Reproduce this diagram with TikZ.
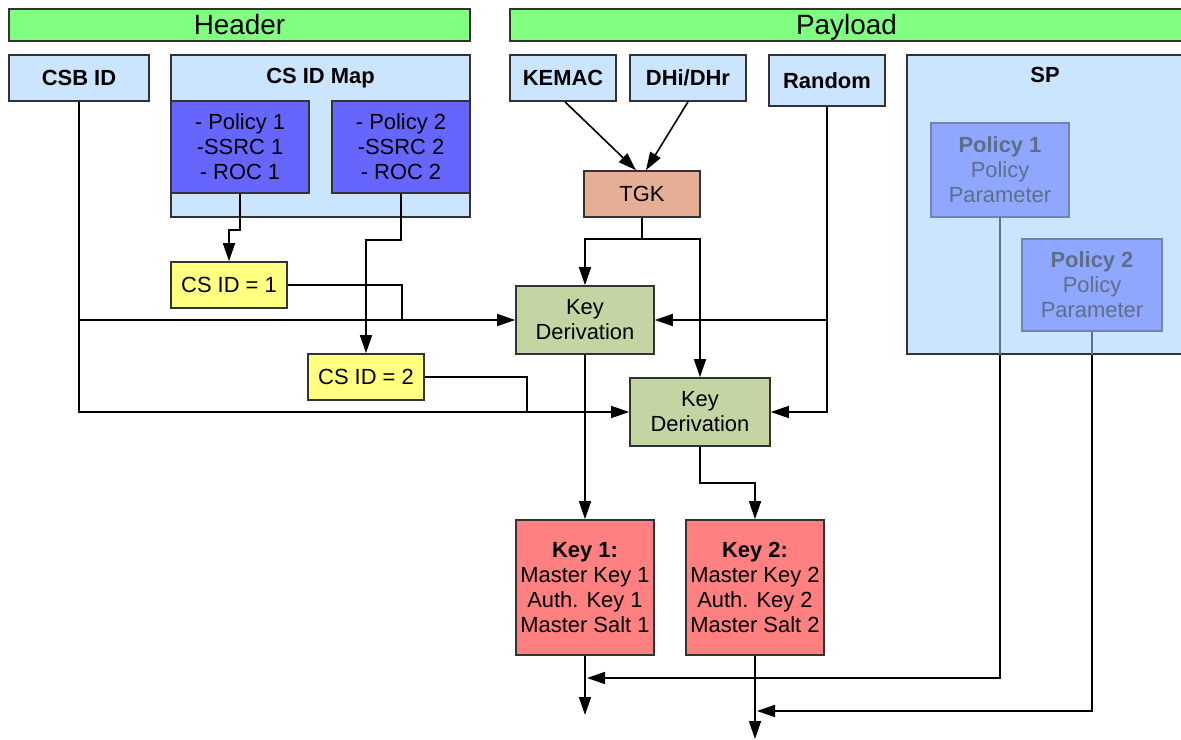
\documentclass[tikz,border=0pt]{standalone}
\usepackage{fontspec}
\setmainfont{Liberation Sans}
\usetikzlibrary{arrows.meta,calc}

\definecolor{barGreen}{HTML}{80FF80}
\definecolor{paleBlue}{HTML}{CCE5FF}
\definecolor{deepBlue}{HTML}{6666FF}
\definecolor{tgkFill}{HTML}{E5AF96}
\definecolor{csYellow}{HTML}{FFFF80}
\definecolor{kdGreen}{HTML}{C2D5A3}
\definecolor{keyRed}{HTML}{FF8080}
\definecolor{spFill}{HTML}{8FA7FF}
\definecolor{spEdge}{HTML}{6F84B5}
\definecolor{spText}{HTML}{5E6E88}
\definecolor{spWireCol}{HTML}{5B7090}
\definecolor{edge}{HTML}{333333}

\tikzset{
  sz/.style 2 args={minimum width=#1, minimum height=#2},
  box/.style={draw=edge, line width=1.7bp, inner sep=0pt, align=center,
              font=\fontsize{22}{25}\selectfont},
  single/.style={text height=15.8bp, text depth=0pt},
  boldbox/.style={box, single, font=\fontsize{22}{25}\selectfont\bfseries},
  bar/.style={box, fill=barGreen, font=\fontsize{28}{30}\selectfont,
              text height=20bp, text depth=0pt},
  title/.style={inner sep=0pt, single, font=\fontsize{22}{25}\selectfont\bfseries},
  policybox/.style={box, fill=spFill, draw=spEdge, text=spText},
  wire/.style={draw=black, line width=1.6bp},
  spwire/.style={draw=spWireCol, line width=1.6bp},
  arr/.style={wire, -{Triangle[length=18bp,width=12bp]}},
}

\begin{document}
\begin{tikzpicture}[x=1bp,y=-1bp]
\useasboundingbox (0,0) rectangle (1181,740);
\fill[white] (0,0) rectangle (1181,740);

% section bars
\node[bar, sz={461bp}{32bp}] (header) at (239.5,25) {Header};
\node[bar, sz={673bp}{32bp}] (payload) at (846.5,25) {Payload};

% header fields
\node[boldbox, fill=paleBlue, sz={140bp}{46bp}] (csb) at (79,78) {CSB ID};
\node[box, fill=paleBlue, sz={299bp}{162bp}] (csmap) at (320.5,136) {};
\node[title] (csmaptitle) at (320.5,76) {CS ID Map};
\node[box, fill=deepBlue, sz={138bp}{92bp}] (pol1) at (240,147) {- Policy 1\\-SSRC 1\\- ROC 1};
\node[box, fill=deepBlue, sz={138bp}{92bp}] (pol2) at (401,147) {- Policy 2\\-SSRC 2\\- ROC 2};

% payload fields
\node[boldbox, fill=paleBlue, sz={106bp}{46bp}] (kemac) at (563,78) {KEMAC};
\node[boldbox, fill=paleBlue, sz={116bp}{46bp}] (dh) at (688,78) {DHi/DHr};
\node[boldbox, fill=paleBlue, sz={116bp}{51bp}] (random) at (827,80.5) {Random};
\node[box, fill=paleBlue, sz={276bp}{299bp}] (sp) at (1045,204.5) {};
\node[title] (sptitle) at (1045,75) {SP};
\node[policybox, sz={138bp}{94bp}] (sppol1) at (1000,170) {\textbf{Policy 1}\\Policy\\Parameter};
\node[policybox, sz={140bp}{92bp}] (sppol2) at (1092,285) {\textbf{Policy 2}\\Policy\\Parameter};

% derived items
\node[box, single, fill=tgkFill, sz={116bp}{46bp}] (tgk) at (642,194) {TGK};
\node[box, single, fill=csYellow, sz={116bp}{46bp}] (cs1) at (229,285) {CS ID = 1};
\node[box, single, fill=csYellow, sz={116bp}{46bp}] (cs2) at (366,377) {CS ID = 2};
\node[box, fill=kdGreen, sz={138bp}{68bp}] (kd1) at (585,320) {Key\\Derivation};
\node[box, fill=kdGreen, sz={140bp}{68bp}] (kd2) at (700,412) {Key\\Derivation};
\node[box, fill=keyRed, sz={138bp}{135bp}] (key1) at (585,587.5)
  {\textbf{Key 1:}\\Master Key 1\\Auth. Key 1\\Master Salt 1};
\node[box, fill=keyRed, sz={138bp}{135bp}] (key2) at (755,587.5)
  {\textbf{Key 2:}\\Master Key 2\\Auth. Key 2\\Master Salt 2};

% junction and free-end points
\coordinate (j1) at (402,320);
\coordinate (j2) at (527,412);
\coordinate (tgkfork) at (642,239);
\coordinate (k1out) at (585,715);
\coordinate (k2out) at (755,739);
\coordinate (k1in) at (587,678);
\coordinate (k2in) at (757,711);

% CSB ID feeds both derivations
\draw[arr] (csb.south) |- (kd2.west);
\draw[arr] (csb.south |- kd1.west) -- (kd1.west);

% CS ID map entries
\draw[arr] (pol1.south) -- ++(0,36) -| (cs1.north);
\draw[wire] (cs1.east) -| (j1);
\draw[arr] (pol2.south) -- ++(0,46) -| (cs2.north);
\draw[wire] (cs2.east) -| (j2);

% TGK
\draw[arr] ([xshift=2bp]kemac.south) -- ([xshift=-6bp]tgk.north);
\draw[arr] (dh.south) -- ([xshift=4bp]tgk.north);
\draw[wire] (tgk.south) -- (tgkfork);
\draw[arr] (tgkfork) -| (kd1.north);
\draw[arr] (tgkfork) -| (kd2.north);

% Random
\draw[arr] (random.south) |- (kd2.east);
\draw[arr] (random.south |- kd1.east) -- (kd1.east);

% derived keys
\draw[arr] (kd1.south) -- (key1.north);
\draw[arr] (kd2.south) -- ++(0,36) -| (key2.north);
\draw[arr] (key1.south) -- (k1out);
\draw[arr] (key2.south) -- (k2out);

% security policies
\draw[spwire] (sppol1.south) -- (sppol1.south |- sp.south);
\draw[arr] (sppol1.south |- sp.south) |- (k1in);
\draw[spwire] (sppol2.south) -- (sppol2.south |- sp.south);
\draw[arr] (sppol2.south |- sp.south) |- (k2in);
\end{tikzpicture}
\end{document}
